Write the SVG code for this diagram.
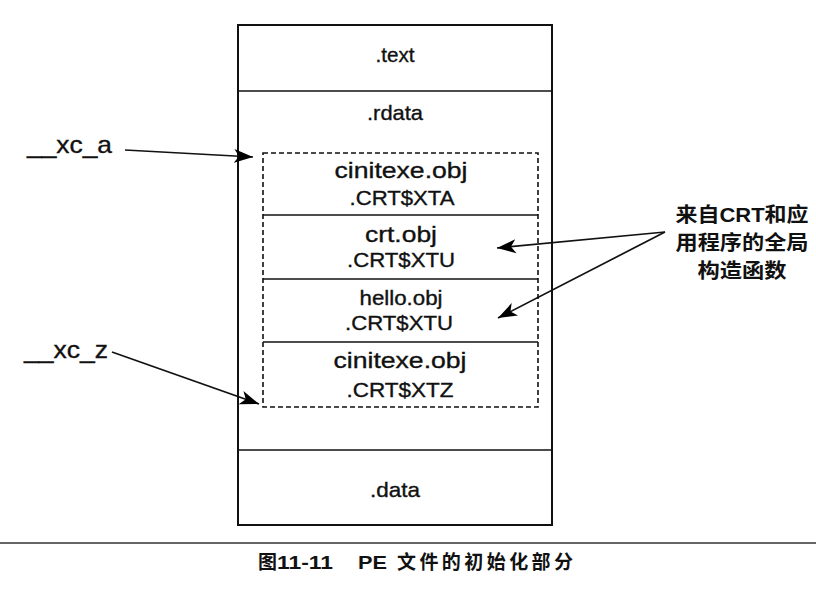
<svg xmlns="http://www.w3.org/2000/svg" width="816" height="596" viewBox="0 0 816 596">
<defs>
<marker id="ah" markerUnits="userSpaceOnUse" markerWidth="21" markerHeight="16" refX="19" refY="8" orient="auto">
<path d="M0,1 L19,8 L0,15 L5,8 Z" fill="#000"/>
</marker>
<style>
.lbl{font-family:"Liberation Sans",Arial,sans-serif;fill:#111;stroke:#111;stroke-width:0.35;text-anchor:middle}
.side{font-family:"Liberation Sans",Arial,sans-serif;fill:#111;stroke:#111;stroke-width:0.35}
.cjk{font-family:"Liberation Sans","Noto Sans CJK SC",sans-serif;fill:#111;font-weight:bold;text-anchor:middle}
.box{fill:#fff;stroke:#111;stroke-width:2}
.dash{fill:none;stroke:#111;stroke-width:1.6;stroke-dasharray:5,3}
.sep{stroke:#111;stroke-width:1.7}
.conn{stroke:#111;stroke-width:1.7;fill:none;marker-end:url(#ah)}
</style>
</defs>
<rect width="816" height="596" fill="#fff"/>

<g id="pe-file">
<rect class="box" x="238" y="25" width="314" height="500"/>
<line class="sep" x1="238" y1="91" x2="552" y2="91" stroke-width="2"/>
<line class="sep" x1="238" y1="450" x2="552" y2="450" stroke-width="2"/>
</g>
<g id="text-section">
<text class="lbl" x="395" y="62" font-size="21" textLength="39" lengthAdjust="spacingAndGlyphs">.text</text>
</g>
<g id="rdata-section">
<text class="lbl" x="395" y="120" font-size="21" textLength="56" lengthAdjust="spacingAndGlyphs">.rdata</text>
</g>
<g id="data-section">
<text class="lbl" x="395" y="497" font-size="21" textLength="50" lengthAdjust="spacingAndGlyphs">.data</text>
</g>

<g id="crt-block">
<rect class="dash" x="263" y="153" width="275" height="254"/>
</g>
<g id="cinitexe-xta">
<line class="sep" x1="263" y1="215" x2="538" y2="215"/>
<text class="lbl" x="401" y="178" font-size="22" textLength="133" lengthAdjust="spacingAndGlyphs">cinitexe.obj</text>
<text class="lbl" x="402" y="205" font-size="21" textLength="105" lengthAdjust="spacingAndGlyphs">.CRT$XTA</text>
</g>
<g id="crt-xtu">
<line class="sep" x1="263" y1="279" x2="538" y2="279"/>
<text class="lbl" x="401" y="242" font-size="22" textLength="72" lengthAdjust="spacingAndGlyphs">crt.obj</text>
<text class="lbl" x="401" y="267" font-size="21" textLength="108" lengthAdjust="spacingAndGlyphs">.CRT$XTU</text>
</g>
<g id="hello-xtu">
<line class="sep" x1="263" y1="342" x2="538" y2="342"/>
<text class="lbl" x="401" y="305" font-size="20" textLength="83" lengthAdjust="spacingAndGlyphs">hello.obj</text>
<text class="lbl" x="399" y="330" font-size="21" textLength="108" lengthAdjust="spacingAndGlyphs">.CRT$XTU</text>
</g>
<g id="cinitexe-xtz">
<text class="lbl" x="400" y="368" font-size="22" textLength="133" lengthAdjust="spacingAndGlyphs">cinitexe.obj</text>
<text class="lbl" x="400" y="397" font-size="21" textLength="107" lengthAdjust="spacingAndGlyphs">.CRT$XTZ</text>
</g>

<g id="xc-a">
<text class="side" x="27" y="153" font-size="24" textLength="85" lengthAdjust="spacingAndGlyphs">__xc_a</text>
</g>
<g id="xc-z">
<text class="side" x="24" y="358" font-size="24" textLength="84" lengthAdjust="spacingAndGlyphs">__xc_z</text>
</g>
<g id="ctor-note">
<text class="cjk" x="742" y="222" font-size="20" textLength="133" lengthAdjust="spacingAndGlyphs">来自CRT和应</text>
<text class="cjk" x="742" y="250" font-size="20" textLength="133" lengthAdjust="spacingAndGlyphs">用程序的全局</text>
<text class="cjk" x="742" y="278" font-size="20" textLength="89" lengthAdjust="spacingAndGlyphs">构造函数</text>
</g>

<g id="connectors">
<line class="conn" x1="125" y1="150" x2="253" y2="157"/>
<line class="conn" x1="112" y1="352" x2="259" y2="404"/>
<line class="conn" x1="665" y1="232" x2="497" y2="248"/>
<line class="conn" x1="665" y1="232" x2="498" y2="318"/>
</g>

<g id="caption">
<line x1="0" y1="543" x2="816" y2="543" stroke="#333" stroke-width="1.5"/>
<text font-family="'Liberation Sans','Noto Sans CJK SC',sans-serif" font-weight="bold" font-size="19" fill="#111"><tspan x="258" y="569">图</tspan><tspan x="277" y="569" textLength="56" lengthAdjust="spacingAndGlyphs">11-11</tspan><tspan x="358" y="569" textLength="29" lengthAdjust="spacingAndGlyphs">PE</tspan><tspan x="397" y="569" textLength="176" lengthAdjust="spacing">文件的初始化部分</tspan></text>
</g>
</svg>
